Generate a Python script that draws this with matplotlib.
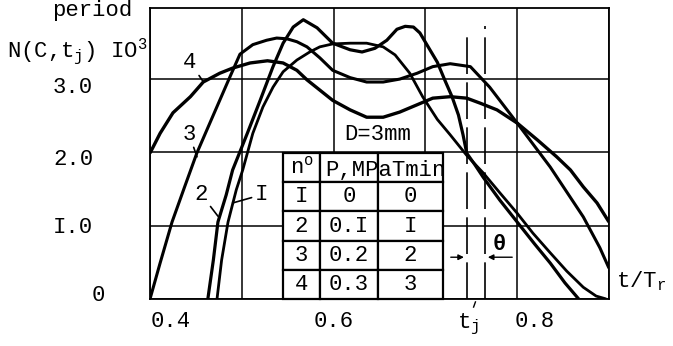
import matplotlib
matplotlib.use("Agg")
import matplotlib.pyplot as plt

plt.rcParams["font.family"] = ["Liberation Mono", "DejaVu Sans Mono"]
plt.rcParams["mathtext.fontset"] = "custom"
plt.rcParams["mathtext.rm"] = "Liberation Mono"
plt.rcParams["mathtext.it"] = "Liberation Mono"
plt.rcParams["mathtext.default"] = "regular"

# N(C, t_j) x 10^3 against t/T_r, one run per row of the table
t1 = [0.473, 0.478, 0.485, 0.494, 0.501, 0.512, 0.523, 0.534, 0.545, 0.560, 0.574,
      0.585, 0.599, 0.618, 0.636, 0.654, 0.667, 0.683, 0.697, 0.713, 0.727, 0.745,
      0.763, 0.781, 0.800, 0.817, 0.836, 0.854, 0.872, 0.886, 0.897]
n1 = [0.0, 0.53, 1.05, 1.49, 1.76, 2.26, 2.62, 2.89, 3.10, 3.26, 3.37,
      3.44, 3.48, 3.49, 3.49, 3.44, 3.33, 3.08, 2.76, 2.45, 2.24, 1.96,
      1.72, 1.45, 1.17, 0.90, 0.63, 0.38, 0.16, 0.04, 0.0]

t2 = [0.463, 0.469, 0.474, 0.483, 0.490, 0.506, 0.520, 0.534, 0.545, 0.556, 0.567,
      0.582, 0.599, 0.618, 0.631, 0.645, 0.658, 0.669, 0.678, 0.687, 0.694, 0.703,
      0.713, 0.721, 0.729, 0.736, 0.741, 0.745, 0.754, 0.763, 0.781, 0.800, 0.819,
      0.836, 0.852, 0.867]
n2 = [0.0, 0.53, 1.05, 1.42, 1.76, 2.26, 2.71, 3.17, 3.49, 3.71, 3.81,
      3.70, 3.49, 3.40, 3.37, 3.42, 3.53, 3.68, 3.72, 3.71, 3.63, 3.44,
      3.23, 2.99, 2.76, 2.51, 2.24, 1.99, 1.83, 1.66, 1.35, 1.05, 0.75,
      0.49, 0.22, 0.0]

t3 = [0.400, 0.411, 0.424, 0.438, 0.451, 0.469, 0.486, 0.498, 0.512, 0.527, 0.538,
      0.549, 0.560, 0.571, 0.585, 0.599, 0.618, 0.636, 0.654, 0.672, 0.691, 0.708,
      0.727, 0.749, 0.770, 0.800, 0.836, 0.872, 0.890, 0.900]
n3 = [0.0, 0.49, 1.05, 1.54, 1.99, 2.51, 3.00, 3.34, 3.47, 3.53, 3.56,
      3.55, 3.51, 3.44, 3.29, 3.12, 3.02, 2.96, 2.96, 3.00, 3.08, 3.17,
      3.21, 3.17, 2.89, 2.40, 1.80, 1.12, 0.70, 0.42]

t4 = [0.400, 0.411, 0.425, 0.444, 0.458, 0.476, 0.490, 0.509, 0.528, 0.545, 0.560,
      0.571, 0.582, 0.599, 0.618, 0.636, 0.654, 0.672, 0.691, 0.708, 0.727, 0.745,
      0.760, 0.778, 0.800, 0.822, 0.843, 0.858, 0.872, 0.887, 0.900]
n4 = [1.99, 2.26, 2.54, 2.76, 2.96, 3.08, 3.15, 3.22, 3.25, 3.22, 3.12,
      2.99, 2.88, 2.71, 2.58, 2.48, 2.48, 2.55, 2.65, 2.74, 2.76, 2.74,
      2.67, 2.58, 2.40, 2.17, 1.94, 1.76, 1.53, 1.31, 1.05]

run_ids = ["I", "2", "3", "4"]
pressures = ["0", "0.I", "0.2", "0.3"]
times = ["0", "I", "2", "3"]

x_grid = [0.4, 0.5, 0.6, 0.7, 0.8, 0.9]
y_grid = [0, 1, 2, 3]
x_labels = ["0.4", "0.6", "0.8"]
x_label_pos = [0.423, 0.600, 0.819]
y_labels = ["3.0", "2.0", "I.0", "0"]
y_label_pos = [2.88, 1.90, 0.97, 0.05]

tj = 0.745
tj_theta = 0.765

fig = plt.figure(figsize=(6.73, 3.46), dpi=100)
ax = fig.add_axes([150 / 673, 47 / 346, 459 / 673, 291 / 346])
ax.set_xlim(0.4, 0.9)
ax.set_ylim(0, 3.97)
ax.set_xticks(x_grid)
ax.set_yticks(y_grid)
ax.tick_params(length=0, labelbottom=False, labelleft=False)
ax.set_axisbelow(True)
ax.grid(True, color="black", lw=1.1)
for s in ax.spines.values():
    s.set_linewidth(1.3)

fs = 16
for lab, xp in zip(x_labels, x_label_pos):
    ax.text(xp, -0.04, lab, transform=ax.get_xaxis_transform(),
            ha="center", va="top", fontsize=fs)
for lab, yp in zip(y_labels, y_label_pos):
    xa = -0.098 if lab == "0" else -0.124
    ax.text(xa, yp, lab, transform=ax.get_yaxis_transform(),
            ha="right", va="center", fontsize=fs)

ax.text(0.7344, -0.045, "t$_j$", transform=ax.get_xaxis_transform(),
        ha="left", va="top", fontsize=fs)
ax.plot([0.7545, 0.7525], [-0.04, -0.11], color="black", lw=1.0, clip_on=False)
ax.text(1.015, 0.16, "t/T$_r$", transform=ax.get_yaxis_transform(),
        ha="left", va="baseline", fontsize=fs)

fig.text(52 / 673, 1 - 16 / 346, "period", fontsize=fs, va="baseline")
fig.text(7 / 673, 1 - 57 / 346, "N(C,t$_j$) IO$^3$", fontsize=fs, va="baseline")

# the four runs
ax.plot(t1, n1, color="black", lw=2.0, zorder=3, solid_capstyle="butt")
ax.plot(t2, n2, color="black", lw=2.3, zorder=3, solid_capstyle="butt")
ax.plot(t3, n3, color="black", lw=2.2, zorder=3, solid_capstyle="butt")
ax.plot(t4, n4, color="black", lw=2.4, zorder=3, solid_capstyle="butt")

# t_j and t_j + theta markers
ax.plot([tj, tj], [0, 3.62], color="black", lw=1.2, dashes=[22, 5], zorder=2)
ax.plot([tj_theta, tj_theta], [0, 3.73], color="black", lw=1.2, dashes=[22, 5], zorder=2)
arr = dict(arrowstyle="-|>", color="black", lw=1.0, mutation_scale=8)
ax.annotate("", xy=(tj, 0.57), xytext=(0.7246, 0.57), arrowprops=arr)
ax.annotate("", xy=(tj_theta, 0.57), xytext=(0.7976, 0.57), arrowprops=arr)
ax.text(0.781, 0.74, "θ", ha="center", va="center", fontsize=fs, fontweight="bold")

ax.text(0.648, 2.25, "D=3mm", ha="center", va="center", fontsize=fs)

# curve labels with leader lines
lead = dict(arrowstyle="-", color="black", lw=1.2, shrinkA=0, shrinkB=0)
ax.annotate("4", xy=(0.4577, 2.97), xytext=(0.4436, 3.23), ha="center", va="center",
            fontsize=fs, arrowprops=lead)
ax.annotate("3", xy=(0.4512, 1.94), xytext=(0.4425, 2.25), ha="center", va="center",
            fontsize=fs, arrowprops=lead)
ax.annotate("2", xy=(0.474, 1.13), xytext=(0.4556, 1.43), ha="center", va="center",
            fontsize=fs, arrowprops=lead)
ax.annotate("I", xy=(0.490, 1.31), xytext=(0.521, 1.42), ha="center", va="center",
            fontsize=fs, arrowprops=lead)

# run table
cells = [["n$^o$", "", ""]] + [[r, p, t] for r, p, t in zip(run_ids, pressures, times)]
tbl = ax.table(cellText=cells, cellLoc="center",
               colWidths=[37 / 160, 58 / 160, 65 / 160],
               bbox=[(283 - 150) / 459, 0.0, 160 / 459, 146 / 291])
tbl.auto_set_font_size(False)
tbl.set_fontsize(fs)
tbl.set_zorder(2)
for cell in tbl.get_celld().values():
    cell.set_linewidth(1.6)
    cell.set_facecolor("white")
ax.text((325 - 150) / 459, (299 - 170) / 291, "P,MPaTmin", transform=ax.transAxes,
        ha="left", va="center", fontsize=fs, zorder=4)

fig.savefig("out.png", dpi=100)
